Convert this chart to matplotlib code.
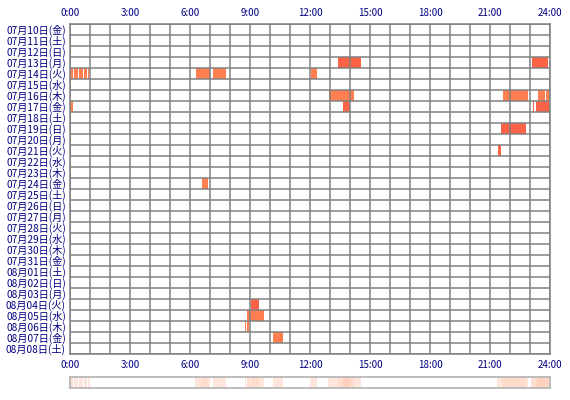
import matplotlib
matplotlib.use("Agg")
import matplotlib.pyplot as plt
import numpy as np

plt.rcParams['font.family'] = ['Noto Sans CJK JP', 'DejaVu Sans']

# 日付ラベル（07/10 〜 08/08）
day_labels = [
    "07月10日(金)", "07月11日(土)", "07月12日(日)", "07月13日(月)", "07月14日(火)",
    "07月15日(水)", "07月16日(木)", "07月17日(金)", "07月18日(土)", "07月19日(日)",
    "07月20日(月)", "07月21日(火)", "07月22日(水)", "07月23日(木)", "07月24日(金)",
    "07月25日(土)", "07月26日(日)", "07月27日(月)", "07月28日(火)", "07月29日(水)",
    "07月30日(木)", "07月31日(金)", "08月01日(土)", "08月02日(日)", "08月03日(月)",
    "08月04日(火)", "08月05日(水)", "08月06日(木)", "08月07日(金)", "08月08日(土)",
]
hour_ticks = [0, 3, 6, 9, 12, 15, 18, 21, 24]
hour_labels = ["0:00", "3:00", "6:00", "9:00", "12:00", "15:00", "18:00", "21:00", "24:00"]

# 活動区間: 日付index, 開始時刻, 終了時刻, 種別(0=coral, 1=tomato)
bar_day = [4, 4, 4, 4, 4, 4, 4, 4,
           3, 3,
           6, 6, 6, 6, 6, 6,
           7, 7, 7, 7,
           9, 11, 14,
           25, 26, 26, 27, 27, 28]
bar_start = [0.05, 0.2, 0.45, 0.7, 0.9, 6.3, 7.15, 12.03,
             13.4, 23.08,
             12.95, 21.65, 22.0, 23.4, 23.8, 23.92,
             0.05, 13.65, 23.13, 23.28,
             21.55, 21.4, 6.6,
             9.05, 8.85, 9.05, 8.77, 8.85, 10.15]
bar_end = [0.15, 0.4, 0.65, 0.85, 0.97, 7.0, 7.78, 12.33,
           14.55, 23.9,
           14.2, 22.0, 22.9, 23.77, 23.88, 23.97,
           0.15, 14.0, 23.22, 23.95,
           22.8, 21.55, 6.9,
           9.45, 9.03, 9.7, 8.82, 8.97, 10.65]
bar_kind = [0, 0, 0, 0, 0, 0, 0, 0,
            1, 1,
            0, 0, 0, 0, 0, 0,
            0, 1, 1, 1,
            1, 1, 0,
            1, 0, 0, 0, 0, 0]

colors = ['#FF7F50', '#FF6347']
navy = '#000080'
grid_c = '#808080'

fig = plt.figure(figsize=(5.7, 4.0), dpi=100)
ax = fig.add_axes([70 / 570, 46 / 400, 480 / 570, 330 / 400])

n_days = len(day_labels)
for d, s, e, k in zip(bar_day, bar_start, bar_end, bar_kind):
    ax.barh(d, e - s, left=s, height=1.0, color=colors[k], linewidth=0, zorder=1)

ax.set_xlim(0, 24)
ax.set_ylim(n_days - 0.5, -0.5)
for h in range(25):
    ax.axvline(h, color=grid_c, lw=1.1, zorder=2)
for i in range(n_days + 1):
    ax.axhline(i - 0.5, color=grid_c, lw=1.1, zorder=2)
for sp in ax.spines.values():
    sp.set_color(grid_c)
    sp.set_linewidth(1.1)

ax.set_yticks(range(n_days))
ax.set_yticklabels(day_labels, fontsize=7.3, color=navy)
ax.set_xticks(hour_ticks)
ax.set_xticklabels(hour_labels, fontsize=7, color=navy)
ax.tick_params(axis='both', length=0, pad=3)
ax.tick_params(axis='x', top=True, labeltop=True, pad=4)

# 集計帯（時間帯ごとの活動日数）
ax2 = fig.add_axes([70 / 570, 12 / 400, 480 / 570, 11 / 400])
bins = np.arange(0, 24.0001, 0.025)
counts = np.zeros(len(bins) - 1)
for s, e in zip(bar_start, bar_end):
    counts += (bins[1:] > s) & (bins[:-1] < e)
for i, c in enumerate(counts):
    if c > 0:
        ax2.axvspan(bins[i], bins[i + 1], color='#FF9060', alpha=min(0.22 + 0.1 * (c - 1), 0.6), lw=0)
ax2.set_xlim(0, 24)
ax2.set_ylim(0, 1)
ax2.set_xticks([])
ax2.set_yticks([])
for sp in ax2.spines.values():
    sp.set_color('#B8B8B8')
    sp.set_linewidth(1.3)

fig.savefig('out.png', dpi=100)
